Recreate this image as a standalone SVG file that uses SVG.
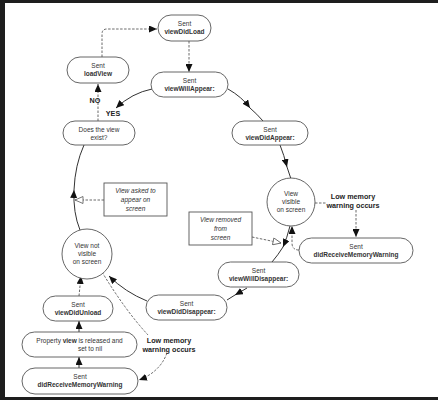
<svg xmlns="http://www.w3.org/2000/svg" width="438" height="400" viewBox="0 0 438 400">
<style>
.pill{fill:#fff;stroke:#555;stroke-width:0.9}
.box{fill:#fff;stroke:#555;stroke-width:0.9}
.t{font-family:"Liberation Sans",Arial,sans-serif;font-size:6.5px;fill:#333;text-anchor:middle}
.b{font-weight:bold}
.i{font-style:italic}
.lbl{font-family:"Liberation Sans",Arial,sans-serif;font-size:7.2px;font-weight:bold;fill:#222;text-anchor:middle}
.s{fill:none;stroke:#333;stroke-width:1}
.d{fill:none;stroke:#444;stroke-width:0.8;stroke-dasharray:2.5,1.5}
.ah{marker-end:url(#arr)}
.hh{marker-end:url(#hol)}
</style>
<defs>
<marker id="arr" markerUnits="userSpaceOnUse" markerWidth="8" markerHeight="7" viewBox="0 0 8 7" refX="8" refY="3.5" orient="auto"><path d="M0,0 L8,3.5 L0,7 z" fill="#111"/></marker>
<marker id="hol" markerUnits="userSpaceOnUse" markerWidth="9" markerHeight="8" viewBox="0 0 9 8" refX="8.5" refY="4" orient="auto"><path d="M0.5,0.5 L8.5,4 L0.5,7.5 z" fill="#fff" stroke="#555" stroke-width="0.8"/></marker>
</defs>
<rect x="0" y="0" width="438" height="400" fill="#1e1e1e"/>
<rect x="5" y="3" width="433" height="394" fill="#fff"/>

<g id="connectors">
<path class="d ah" d="M102,57 L102,34 Q102,29 107,29 L157,29"/>
<path class="d ah" d="M189,41 L189,72"/>
<path class="s ah" d="M152,89 Q132,93 116,108"/>
<path class="s ah" d="M228,89 Q242,97 250,108"/>
<path class="s" d="M250,108 Q257,114 263,121"/>
<path class="s ah" d="M280,145 Q284,155 287,167"/>
<path class="s" d="M287,167 Q289,173 291,179"/>
<path class="s ah" d="M290,226 Q287,238 283,247"/>
<path class="s" d="M283,247 Q278,255 272,262"/>
<path class="s ah" d="M247,288 Q242,291 235,295"/>
<path class="s" d="M235,295 L227,300"/>
<path class="s ah" d="M147,301 Q125,292 109,276"/>
<path class="s ah" d="M80,230 Q73,213 74,190"/>
<path class="s" d="M74,190 Q75,165 84,145"/>
<path class="d hh" d="M104,200 L75,200"/>
<path class="d hh" d="M252,237 L281,243"/>
<path class="d" d="M315,203 L326,203"/>
<path class="d ah" d="M356,210 L356,237"/>
<path class="d ah" d="M299,250 Q292,250 292,243 L292,226"/>
<path class="d" d="M102,272 Q125,310 148,335"/>
<path class="d ah" d="M167,353 Q160,372 139,380"/>
<path class="s ah" d="M79,368 L79,357"/>
<path class="s ah" d="M79,332 L79,321"/>
<path class="d ah" d="M79,296 L81,276"/>
<path class="d ah" d="M98,121 L98,84"/>
</g>

<g id="viewDidLoad"><rect class="pill" x="158" y="15" width="53" height="26" rx="13"/><text class="t" x="184.5" y="26">Sent</text><text class="t b" x="184.5" y="34">viewDidLoad</text></g>
<g id="loadView"><rect class="pill" x="67" y="57" width="62" height="26" rx="13"/><text class="t" x="98" y="68">Sent</text><text class="t b" x="98" y="76">loadView</text></g>
<g id="viewWillAppear"><rect class="pill" x="151" y="72" width="77" height="25" rx="12.5"/><text class="t" x="189.5" y="83">Sent</text><text class="t b" x="189.5" y="91">viewWillAppear:</text></g>
<g id="doesViewExist"><rect class="pill" x="63" y="121" width="72" height="24" rx="12"/><text class="t" x="99" y="131.5">Does the view</text><text class="t" x="99" y="139.5">exist?</text></g>
<g id="viewDidAppear"><rect class="pill" x="232" y="121" width="76" height="24" rx="12"/><text class="t" x="270" y="131.5">Sent</text><text class="t b" x="270" y="139.5">viewDidAppear:</text></g>
<g id="viewVisible"><circle class="pill" cx="291" cy="202" r="24"/><text class="t" x="291" y="196">View</text><text class="t" x="291" y="204">visible</text><text class="t" x="291" y="212">on screen</text></g>
<g id="lowMemory1"><text class="lbl" x="353" y="199">Low memory</text><text class="lbl" x="353" y="208">warning occurs</text></g>
<g id="didReceiveRight"><rect class="pill" x="299" y="238" width="114" height="25" rx="12.5"/><text class="t" x="356" y="249">Sent</text><text class="t b" x="356" y="257">didReceiveMemoryWarning</text></g>
<g id="viewRemoved"><rect class="box" x="189" y="212" width="63" height="33"/><text class="t i" x="220.5" y="222">View removed</text><text class="t i" x="220.5" y="231">from</text><text class="t i" x="220.5" y="240">screen</text></g>
<g id="viewAsked"><rect class="box" x="104" y="183" width="63" height="33"/><text class="t i" x="135.5" y="193">View asked to</text><text class="t i" x="135.5" y="202">appear on</text><text class="t i" x="135.5" y="211">screen</text></g>
<g id="viewWillDisappear"><rect class="pill" x="218" y="262" width="81" height="25" rx="12.5"/><text class="t" x="258.5" y="273">Sent</text><text class="t b" x="258.5" y="281">viewWillDisappear:</text></g>
<g id="viewDidDisappear"><rect class="pill" x="146" y="295" width="81" height="25" rx="12.5"/><text class="t" x="186.5" y="306">Sent</text><text class="t b" x="186.5" y="314">viewDidDisappear:</text></g>
<g id="viewNotVisible"><circle class="pill" cx="87" cy="254" r="25"/><text class="t" x="87" y="248">View not</text><text class="t" x="87" y="256">visible</text><text class="t" x="87" y="264">on screen</text></g>
<g id="viewDidUnload"><rect class="pill" x="43" y="296" width="70" height="25" rx="12.5"/><text class="t" x="78" y="307">Sent</text><text class="t b" x="78" y="315">viewDidUnload</text></g>
<g id="propertyReleased"><rect class="pill" x="22" y="332" width="115" height="25" rx="12.5"/><text class="t" x="79.5" y="343">Property <tspan class="b">view</tspan> is released and</text><text class="t" x="90" y="351">set to nil</text></g>
<g id="didReceiveLeft"><rect class="pill" x="22" y="368" width="116" height="26" rx="13"/><text class="t" x="80" y="379">Sent</text><text class="t b" x="80" y="387">didReceiveMemoryWarning</text></g>
<g id="lowMemory2"><text class="lbl" x="169" y="343">Low memory</text><text class="lbl" x="169" y="352">warning occurs</text></g>
<g id="labels"><text class="lbl" x="95" y="103">NO</text><text class="lbl" x="113" y="116">YES</text></g>
</svg>
